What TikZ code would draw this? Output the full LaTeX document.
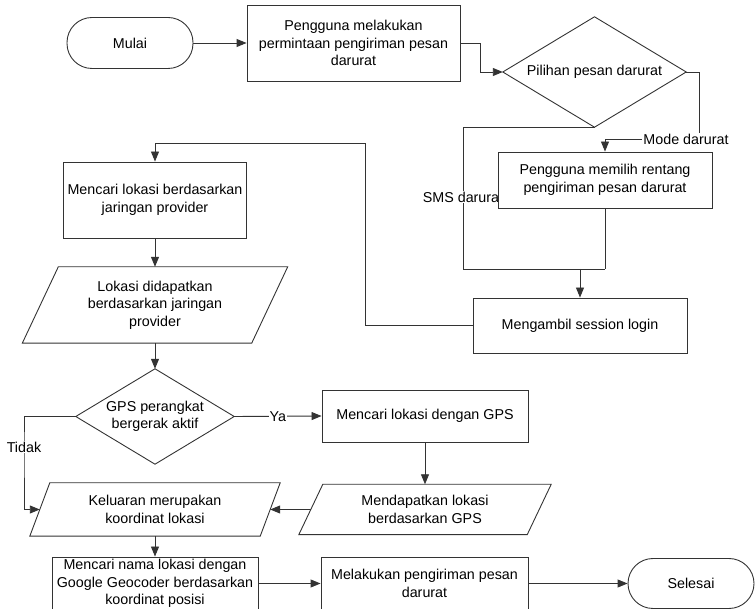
\documentclass[tikz,border=0pt]{standalone}
\usepackage{fontspec}
\setmainfont{Liberation Sans}
\usetikzlibrary{arrows.meta,calc,backgrounds}
\definecolor{ln}{HTML}{333333}
\begin{document}
\begin{tikzpicture}[x=1pt,y=-1pt,
  txt/.style={font=\fontsize{14.3}{17.5}\selectfont, align=center, text=black},
  box/.style={txt, rectangle, draw=ln, fill=white, line width=0.9pt, inner sep=0pt},
  term/.style={box, rounded corners=25pt},
  frame/.style={txt, rectangle, draw=none, inner sep=0pt},
  shp/.style={draw=ln, line width=0.9pt, line join=miter},
  conn/.style={draw=ln, line width=0.9pt},
  arr/.style={conn, -{Triangle[length=10pt,width=8pt]}},
  lbl/.style={txt, fill=white, inner sep=1pt}]
\useasboundingbox (0,0) rectangle (756,609);
\clip (0,0) rectangle (756,609);

% --- process boxes, decisions and data shapes ---
\node[term, minimum width=126pt, minimum height=51pt] (start) at (130,43) {Mulai};
\node[box, minimum width=213pt, minimum height=76pt] (b1) at (353.5,43)
  {Pengguna melakukan\\permintaan pengiriman pesan\\darurat};

\node[frame, minimum width=183pt, minimum height=110pt] (d1) at (594.5,72) {Pilihan pesan darurat};
\draw[shp] (d1.north) -- (d1.east) -- (d1.south) -- (d1.west) -- cycle;

\node[box, minimum width=214pt, minimum height=56pt] (b2) at (605,180)
  {Pengguna memilih rentang\\pengiriman pesan darurat};
\node[box, minimum width=214pt, minimum height=55pt] (b3) at (580,325.5)
  {Mengambil session login};

\node[box, minimum width=183pt, minimum height=76pt] (b4) at (155,200)
  {Mencari lokasi berdasarkan\\jaringan provider};

\node[frame, minimum width=229pt, minimum height=76pt] (p1) at (155,305)
  {Lokasi didapatkan\\berdasarkan jaringan\\provider};
\draw[shp] ($(p1.north west)+(18,0)$) -- ($(p1.north east)+(18,0)$)
  -- ($(p1.south east)+(-18,0)$) -- ($(p1.south west)+(-18,0)$) -- cycle;

\node[frame, minimum width=158pt, minimum height=95pt] (d2) at (155,416.5)
  {GPS perangkat\\bergerak aktif};
\draw[shp] (d2.north) -- (d2.east) -- (d2.south) -- (d2.west) -- cycle;

\node[box, minimum width=206pt, minimum height=52pt] (b5) at (425,416)
  {Mencari lokasi dengan GPS};

\node[frame, minimum width=228pt, minimum height=50pt] (p3) at (425,509.5)
  {Mendapatkan lokasi\\berdasarkan GPS};
\draw[shp] ($(p3.north west)+(12,0)$) -- ($(p3.north east)+(12,0)$)
  -- ($(p3.south east)+(-12,0)$) -- ($(p3.south west)+(-12,0)$) -- cycle;

\node[frame, minimum width=230pt, minimum height=53pt] (p2) at (155,509.5)
  {Keluaran merupakan\\koordinat lokasi};
\draw[shp] ($(p2.north west)+(10,0)$) -- ($(p2.north east)+(10,0)$)
  -- ($(p2.south east)+(-10,0)$) -- ($(p2.south west)+(-10,0)$) -- cycle;

\node[box, minimum width=206pt, minimum height=53pt] (b6) at (155,583.5)
  {Mencari nama lokasi dengan\\Google Geocoder berdasarkan\\koordinat posisi};
\node[box, minimum width=207pt, minimum height=53pt] (b7) at (424.5,583.5)
  {Melakukan pengiriman pesan\\darurat};
\node[term, minimum width=126pt, minimum height=50pt] (stop) at (691,583.5) {Selesai};

% --- connectors ---
\begin{pgfonlayer}{background}
\coordinate (mj) at (605,269);
\draw[arr] (start.east) -- (b1.west);
\draw[arr] (b1.east) -- ++(20,0) |- (d1.west);
\draw[arr] (d1.east) -| (699,139) node[lbl, xshift=-13pt] {Mode darurat} -| (b2.north);
\draw[conn] (d1.south) -| (463,269) -- (mj);
\node[lbl] (smslbl) at (463,197) {SMS darurat};
\draw[conn] (b2.south) -- (mj);
\draw[arr] (b3.north |- mj) -- (b3.north);
\draw[arr] (b3.west) -| (365,143) -| (b4.north);
\draw[arr] (b4.south) -- (p1.north);
\draw[arr] (p1.south) -- (d2.north);
\draw[arr] (d2.east) -- node[lbl] {Ya} (b5.west);
\draw[arr] (d2.west) -| (24,447) node[lbl] {Tidak} |- (p2.west);
\draw[arr] (b5.south) -- (p3.north);
\draw[arr] (p3.west) -- (p2.east);
\draw[arr] (p2.south) -- (b6.north);
\draw[arr] (b6.east) -- (b7.west);
\draw[arr] (b7.east) -- (stop.west);
\end{pgfonlayer}
\end{tikzpicture}
\end{document}
